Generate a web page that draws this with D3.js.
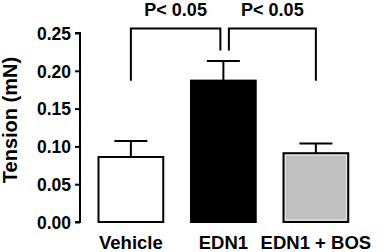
<!DOCTYPE html>
<html><head><meta charset="utf-8">
<script src="https://cdn.jsdelivr.net/npm/d3@7"></script>
<style>body{margin:0;background:#fff}svg{display:block}text{font-family:"Liberation Sans",Arial,sans-serif;font-weight:bold;fill:#000}</style>
</head><body><svg id="c" width="383" height="252"></svg>
<script>
const categories = ["Vehicle", "EDN1", "EDN1 + BOS"];
const means = [0.086, 0.187, 0.091];
const errors = [0.021, 0.026, 0.013];
const fills = ["#ffffff", "#000000", "#c0c0c0"];
const yTicks = [0, 0.05, 0.10, 0.15, 0.20, 0.25];
const comparisons = [{a: 0, b: 1, label: "P< 0.05"}, {a: 1, b: 2, label: "P< 0.05"}];
const bracketTop = 0.256, bracketLeg = 0.187, bracketInner = 0.227;

const svg = d3.select("#c");
const x = d3.scaleBand().domain(categories).range([80, 366.75]).paddingInner(0.3).paddingOuter(0.2);
const y = d3.scaleLinear().domain([0, 0.25]).range([222, 33]);

// y axis
const ax = svg.append("g").attr("transform", "translate(80,0)")
  .call(d3.axisLeft(y).tickValues(yTicks).tickFormat(d3.format(".2f")).tickSize(5).tickPadding(4));
ax.select(".domain").attr("stroke-width", 2).attr("d", `M-5,${y(0.25)}H0V${y(0)}H-5`);
ax.selectAll(".tick line").attr("stroke-width", 2);
ax.selectAll(".tick text").style("font-size", "17.5px").style("font-family", '"Liberation Sans",Arial,sans-serif').style("font-weight", "bold").attr("dy", "0.36em");

svg.append("text").attr("transform", `translate(17,120) rotate(-90)`).attr("text-anchor", "middle")
  .style("font-size", "20px").text("Tension (mN)");

// error bars
const cx = d => x(d) + x.bandwidth() / 2;
categories.forEach((c, i) => {
  const g = svg.append("g").attr("stroke", "#000").attr("stroke-width", 2);
  g.append("line").attr("x1", cx(c)).attr("x2", cx(c)).attr("y1", y(means[i])).attr("y2", y(means[i] + errors[i]));
  g.append("line").attr("x1", cx(c) - 16.5).attr("x2", cx(c) + 16.5).attr("y1", y(means[i] + errors[i])).attr("y2", y(means[i] + errors[i]));
});

// bars
svg.selectAll("rect.bar").data(categories).join("rect").attr("class", "bar")
  .attr("x", d => x(d)).attr("width", x.bandwidth())
  .attr("y", (d, i) => y(means[i])).attr("height", (d, i) => y(0) - y(means[i]))
  .attr("fill", (d, i) => fills[i]).attr("stroke", "#000").attr("stroke-width", 2);
// light inner edge on grey bar
svg.append("rect").attr("x", x(categories[2]) + 2).attr("width", x.bandwidth() - 4)
  .attr("y", y(means[2]) + 2).attr("height", y(0) - y(means[2]) - 4)
  .attr("fill", "none").attr("stroke", "#e6e6e6").attr("stroke-width", 1);

// category labels
svg.selectAll("text.cat").data(categories).join("text").attr("class", "cat")
  .attr("x", d => cx(d)).attr("y", 249).attr("text-anchor", "middle").style("font-size", "18.5px").text(d => d);

// significance brackets
comparisons.forEach((cmp, k) => {
  const ca = categories[cmp.a], cb = categories[cmp.b];
  let xa = cx(ca), xb = cx(cb);
  let ya = y(bracketLeg), yb = y(bracketLeg);
  if (k === 0) { xb = cx(cb) - 3; yb = y(bracketInner); }
  else { xa = cx(ca) + 5.5; ya = y(bracketInner); }
  svg.append("path").attr("d", `M${xa},${ya}V${y(bracketTop)}H${xb}V${yb}`)
    .attr("fill", "none").attr("stroke", "#000").attr("stroke-width", 2);
  svg.append("text").attr("x", (xa + xb) / 2).attr("y", 16).attr("text-anchor", "middle")
    .style("font-size", "18px").text(cmp.label);
});
</script></body></html>
